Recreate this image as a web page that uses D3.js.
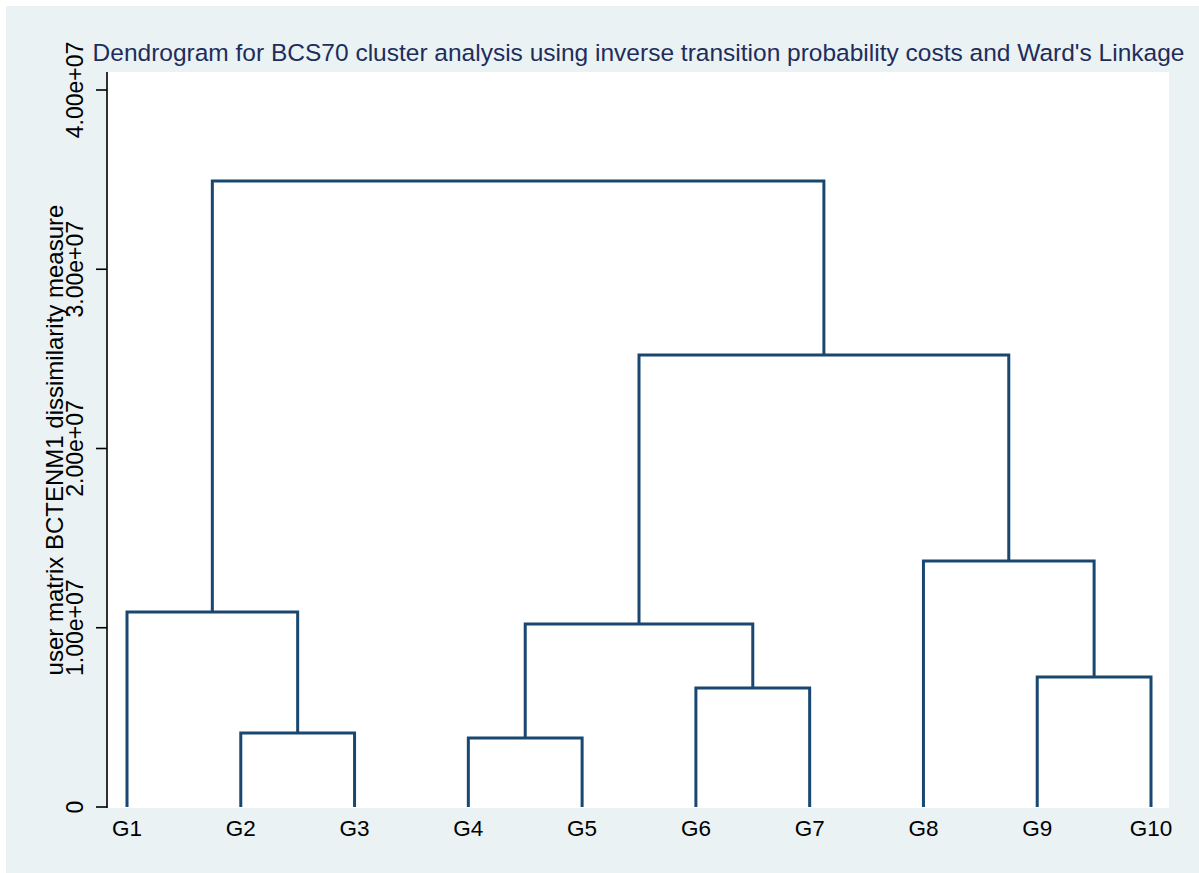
<!DOCTYPE html>
<html>
<head>
<meta charset="utf-8">
<script src="https://cdn.jsdelivr.net/npm/d3@7"></script>
<style>
  body { margin: 0; background: #fff; }
  svg { display: block; }
  text { font-family: "Liberation Sans", Arial, sans-serif; }
</style>
</head>
<body>
<svg id="chart" width="1199" height="873"></svg>
<script>
// leaves, left to right
const leaves = ['G1', 'G2', 'G3', 'G4', 'G5', 'G6', 'G7', 'G8', 'G9', 'G10'];

// merges: id, left child, right child, dissimilarity
const mergeIds = ['c1', 'c2', 'c3', 'c4', 'c5', 'c6', 'c7', 'c8', 'c9'];
const mergeLeft = ['G2', 'G4', 'G6', 'G9', 'c2', 'G1', 'G8', 'c5', 'c6'];
const mergeRight = ['G3', 'G5', 'G7', 'G10', 'c3', 'c1', 'c4', 'c7', 'c8'];
const mergeHeight = [4.13e6, 3.85e6, 6.64e6, 7.25e6, 1.021e7, 1.088e7, 1.372e7, 2.522e7, 3.492e7];

const yTicks = [0, 1e7, 2e7, 3e7, 4e7];
const yTickLabels = ['0', '1.00e+07', '2.00e+07', '3.00e+07', '4.00e+07'];

const title = "Dendrogram for BCS70 cluster analysis using inverse transition probability costs and Ward's Linkage";
const yTitle = 'user matrix BCTENM1 dissimilarity measure';

const svg = d3.select('#chart');
const plot = { left: 108, right: 1169, top: 72, bottom: 808 };

// outer graph region
svg.append('rect')
    .attr('x', 6).attr('y', 6)
    .attr('width', 1193).attr('height', 867)
    .attr('fill', '#eaf2f3');

svg.append('rect')
    .attr('x', plot.left).attr('y', plot.top)
    .attr('width', plot.right - plot.left).attr('height', plot.bottom - plot.top)
    .attr('fill', '#ffffff');

const x = d3.scalePoint().domain(leaves).range([127, 1151]);
const y = d3.scaleLinear().domain([0, 4e7]).range([807, 90]);

// position of each node
const pos = {};
leaves.forEach(l => { pos[l] = { x: x(l), h: 0 }; });
mergeIds.forEach((id, i) => {
    const a = pos[mergeLeft[i]], b = pos[mergeRight[i]];
    pos[id] = { x: (a.x + b.x) / 2, h: mergeHeight[i] };
});

const g = svg.append('g');
mergeIds.forEach((id, i) => {
    const a = pos[mergeLeft[i]], b = pos[mergeRight[i]];
    const hy = y(mergeHeight[i]);
    g.append('path')
        .attr('d', `M${a.x},${y(a.h)}V${hy}H${b.x}V${y(b.h)}`)
        .attr('fill', 'none')
        .attr('stroke', '#1a476f')
        .attr('stroke-width', 3)
        .attr('stroke-linejoin', 'miter')
        .attr('stroke-linecap', 'butt');
});

// y axis
const yAxis = svg.append('g');
yAxis.append('line')
    .attr('x1', 107).attr('x2', 107)
    .attr('y1', plot.top).attr('y2', 808)
    .attr('stroke', '#000').attr('stroke-width', 1.6);

yTicks.forEach((t, i) => {
    yAxis.append('line')
        .attr('x1', 96).attr('x2', 107)
        .attr('y1', y(t)).attr('y2', y(t))
        .attr('stroke', '#000').attr('stroke-width', 1.6);
    yAxis.append('text')
        .attr('transform', `translate(83,${y(t)}) rotate(-90)`)
        .attr('text-anchor', 'middle')
        .attr('font-size', 23)
        .attr('fill', '#000')
        .text(yTickLabels[i]);
});

yAxis.append('text')
    .attr('transform', `translate(63,${(plot.top + 808) / 2}) rotate(-90)`)
    .attr('text-anchor', 'middle')
    .attr('font-size', 24)
    .attr('fill', '#000')
    .text(yTitle);

// leaf labels
svg.selectAll('.leaf')
    .data(leaves)
    .enter().append('text')
    .attr('class', 'leaf')
    .attr('x', d => x(d))
    .attr('y', 836)
    .attr('text-anchor', 'middle')
    .attr('font-size', 22.5)
    .attr('fill', '#000')
    .text(d => d);

svg.append('text')
    .attr('x', (plot.left + plot.right) / 2)
    .attr('y', 61)
    .attr('text-anchor', 'middle')
    .attr('font-size', 24.5)
    .attr('fill', '#1e2d5c')
    .text(title);
</script>
</body>
</html>
